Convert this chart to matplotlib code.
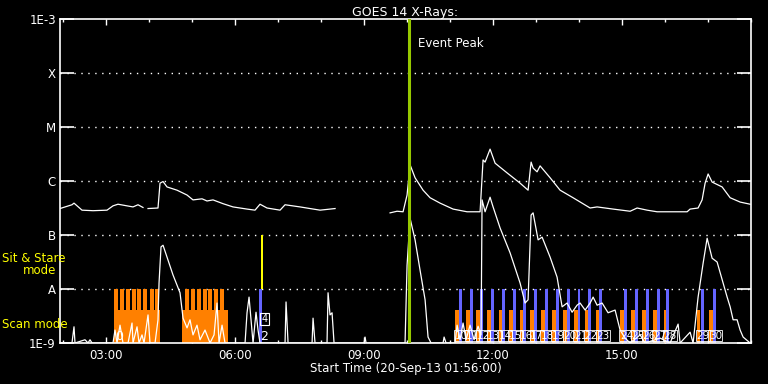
import numpy as np
import matplotlib
matplotlib.use('Agg')
import matplotlib.pyplot as plt
from matplotlib.ticker import FixedLocator, NullFormatter

# GOES 14 long channel (1-8 A), decimal hours of 20-Sep-13, log10 flux (nan = data gap)
long_time = [1.933, 2.212, 2.259, 2.445, 2.701, 3.026, 3.166, 3.282, 3.491, 3.631, 3.747, 3.863,
             3.92,
             3.980, 4.212, 4.259, 4.329, 4.422, 4.654, 4.887, 5.026, 5.236, 5.352, 5.491, 5.724,
             5.956, 6.282, 6.468, 6.584, 6.747, 7.050, 7.166, 7.515, 7.747, 7.980, 8.329,
             9.0,
             9.608, 9.770, 9.910, 10.003, 10.073, 10.189, 10.375, 10.538, 10.771, 11.073, 11.398,
             11.701, 11.770, 11.817, 11.933, 12.050, 12.329, 12.631, 12.817, 12.887, 12.933,
             13.026, 13.096, 13.329, 13.561, 13.863, 14.259, 14.422, 14.794, 15.189, 15.352,
             15.584, 15.817, 16.515, 16.584, 16.770, 16.863, 16.933, 17.003, 17.096, 17.329,
             17.515, 17.747, 17.980]
long_log = [-6.51, -6.44, -6.41, -6.54, -6.55, -6.54, -6.46, -6.43, -6.46, -6.48, -6.44, -6.49,
            np.nan,
            -6.51, -6.50, -6.04, -6.01, -6.11, -6.17, -6.26, -6.35, -6.33, -6.37, -6.35, -6.42,
            -6.48, -6.52, -6.54, -6.43, -6.50, -6.54, -6.44, -6.48, -6.51, -6.54, -6.51,
            np.nan,
            -6.59, -6.56, -6.57, -6.26, -5.70, -5.94, -6.17, -6.31, -6.41, -6.52, -6.57,
            -6.57, -5.61, -5.65, -5.41, -5.67, -5.85, -6.04, -6.17, -5.65, -5.76,
            -5.83, -5.72, -5.94, -6.17, -6.31, -6.50, -6.48, -6.52, -6.56, -6.50,
            -6.54, -6.57, -6.57, -6.52, -6.50, -6.35, -6.04, -5.87, -6.02, -6.11,
            -6.31, -6.39, -6.43]

# GOES 14 short channel (0.5-4 A)
short_time = [1.933, 2.212, 2.236, 2.259, 2.282, 2.515, 2.585, 2.631, 2.678, 3.166, 3.212, 3.259,
              3.329, 3.398, 3.515, 3.608, 3.631, 3.724, 3.771, 3.840, 3.887, 3.980, 4.026, 4.143,
              4.212, 4.236, 4.282, 4.329, 4.422, 4.561, 4.654, 4.724, 4.794, 4.887, 4.956, 5.026,
              5.119, 5.189, 5.305, 5.422, 5.515, 5.584, 5.631, 5.701, 5.770, 6.236, 6.282, 6.329,
              6.375, 6.422, 6.491, 6.538, 6.584, 7.166, 7.189, 7.236, 7.794, 7.817, 7.863, 8.142,
              8.166, 8.212, 8.259, 8.305, 9.003, 9.026, 9.050, 9.956, 10.003, 10.073, 10.189,
              10.305, 10.422, 10.491, 10.561, 10.840, 10.864, 10.910, 11.119, 11.166, 11.236,
              11.305, 11.375, 11.468, 11.561, 11.654, 11.724, 11.747, 11.817, 11.933, 12.003,
              12.166, 12.398, 12.631, 12.747, 12.817, 12.887, 12.933, 13.050, 13.143, 13.329,
              13.491, 13.608, 13.724, 13.840, 13.956, 14.026, 14.143, 14.259, 14.329, 14.422,
              14.538, 14.677, 14.840, 14.956, 15.073, 15.189, 15.422, 15.538, 15.887, 16.119,
              16.305, 16.352, 16.584, 16.654, 16.770, 16.887, 16.980, 17.096, 17.212, 17.329,
              17.445, 17.515, 17.584, 17.677, 17.747, 17.817, 17.980]
short_log = [-9.00, -9.00, -8.85, -8.70, -9.00, -8.94, -9.00, -8.94, -9.00, -9.00, -8.76, -9.00,
             -8.67, -9.00, -9.00, -8.63, -9.00, -8.70, -9.00, -8.85, -9.00, -8.48, -9.00, -9.00,
             -8.57, -7.89, -7.22, -7.19, -7.41, -7.74, -7.93, -8.07, -8.54, -8.72, -8.57, -8.85,
             -8.67, -8.94, -8.76, -9.00, -8.85, -8.26, -9.00, -8.67, -9.00, -9.00, -8.44, -8.15,
             -8.57, -9.00, -8.43, -8.76, -9.00, -9.00, -8.24, -9.00, -9.00, -8.54, -9.00, -9.00,
             -8.07, -8.48, -8.44, -9.00, -9.00, -8.89, -9.00, -9.00, -7.56, -6.69, -7.09,
             -7.65, -8.20, -8.89, -9.00, -9.00, -8.89, -9.00, -9.00, -8.67, -8.94,
             -8.63, -8.94, -8.67, -8.94, -8.69, -8.85, -6.35, -6.57, -6.30, -6.48,
             -6.87, -7.33, -7.89, -8.26, -8.20, -6.63, -6.59, -7.09, -7.04, -7.41,
             -7.78, -8.33, -8.26, -8.43, -8.30, -8.26, -8.39, -8.26, -8.15, -8.30,
             -8.26, -8.44, -8.39, -8.76, -8.91, -9.00, -8.85, -9.00, -8.91, -9.00,
             -8.65, -9.00, -8.80, -9.00, -8.15, -7.52, -7.06, -7.43, -7.50, -7.83,
             -8.15, -8.33, -8.57, -8.57, -8.76, -8.89, -9.00]

# IRIS observing modes
scan_blocks = ['03:11', '04:46']
scan_block_min = [64, 64]
scan_teeth = ['03:11', '03:20', '03:28', '03:36', '03:44', '03:52', '04:01', '04:09',
              '04:50', '04:59', '05:07', '05:15', '05:23', '05:31', '05:39']
scan_short = ['11:07', '11:22', '11:37', '11:52', '12:08', '12:22', '12:38', '12:52', '13:07',
              '13:22', '13:38', '13:53', '14:08', '14:24', '14:57', '15:13', '15:28', '15:43',
              '15:58', '16:44', '17:01']
stare_tall = ['06:34', '11:13', '11:28', '11:42', '11:57', '12:13', '12:28', '12:42', '12:57',
              '13:13', '13:28', '13:43', '13:58', '14:13', '14:28', '15:03', '15:18', '15:34',
              '15:49', '16:02', '16:50', '17:07']
sit_stare = ['06:36']
obs_labels = ['10', '11', '12', '13', '14', '15', '16', '17', '18', '19', '20', '21', '22',
              '23', '24', '25', '26', '27', '28', '29', '30']
event_peak = '10:03'

levels = [1e-9, 1e-8, 1e-7, 1e-6, 1e-5, 1e-4, 1e-3]
level_names = ['1E-9', 'A', 'B', 'C', 'M', 'X', '1E-3']


def hm(s):
    h, m = s.split(':')
    return int(h) + int(m) / 60.0


t0 = 1 + 56 / 60.0
t1 = 18.0

fig = plt.figure(figsize=(7.68, 3.84), dpi=100, facecolor='black')
ax = fig.add_axes([60 / 768, 41 / 384, 691 / 768, 324 / 384])
ax.set_facecolor('black')
ax.set_yscale('log')
ax.set_xlim(t0, t1)
ax.set_ylim(1e-9, 1e-3)

orange = '#ff8000'
blue = '#6464ff'
short_top = 10 ** -8.39

# scan mode blocks
ax.bar([hm(s) for s in scan_blocks], short_top - 1e-9, width=np.array(scan_block_min) / 60.0,
       bottom=1e-9, align='edge', color=orange, zorder=2)
ax.bar([hm(s) for s in scan_teeth], 1e-8 - 1e-9, width=5.5 / 60.0, bottom=1e-9,
       align='edge', color=orange, zorder=2)
ax.bar([hm(s) for s in scan_short], short_top - 1e-9, width=5.5 / 60.0, bottom=1e-9,
       align='edge', color=orange, zorder=2)
ax.bar([hm(s) for s in stare_tall], 1e-8 - 1e-9, width=4 / 60.0, bottom=1e-9,
       align='edge', color=blue, zorder=2)
ax.bar([hm(s) for s in sit_stare], 1e-7 - 1e-8, width=3.5 / 60.0, bottom=1e-8,
       align='edge', color='#ffff00', zorder=2)

# grid at flare levels
for lv in levels[1:-1]:
    ax.axhline(lv, color='white', lw=1.0, ls=(0, (1, 4)), zorder=1)

ax.plot(long_time, 10 ** np.array(long_log), color='white', lw=0.9, zorder=4)
ax.plot(short_time, 10 ** np.array(short_log), color='white', lw=0.9, zorder=4)

ax.axvline(hm(event_peak), color='#96c800', lw=2.2, zorder=5)
ax.text(hm(event_peak) + 0.2, 10 ** -3.45, 'Event Peak', color='white', fontsize=8.5,
        va='center', ha='left', zorder=6)

# observation numbers
ax.text(hm('03:11') + 0.03, 1.15e-9, '0', color='white', fontsize=9, zorder=6)
ax.text(hm('06:34') + 0.03, 1.15e-9, '2', color='white', fontsize=9, zorder=6)
ax.text(hm('06:37'), 10 ** -8.55, '4', color='white', fontsize=7, va='center', zorder=6,
        bbox=dict(boxstyle='square,pad=0.1', fc='none', ec='white', lw=0.8))
for s, lab in zip(scan_short, obs_labels):
    ax.text(hm(s), 1.2e-9, lab, color='white', fontsize=7.5, zorder=6,
            bbox=dict(boxstyle='square,pad=0.05', fc='none', ec='white', lw=0.6))

ax.set_yticks(levels)
ax.set_yticklabels(level_names)
ax.yaxis.set_minor_locator(FixedLocator([]))
ax.yaxis.set_minor_formatter(NullFormatter())
ax.tick_params(axis='y', which='major', direction='in', length=10, width=1.2,
               color='white', labelcolor='white', labelsize=8.5, right=True, pad=3)

ax.set_xticks([3, 6, 9, 12, 15])
ax.set_xticklabels(['03:00', '06:00', '09:00', '12:00', '15:00'])
ax.xaxis.set_minor_locator(FixedLocator(list(range(2, 19))))
ax.tick_params(axis='x', which='major', direction='in', length=4.5, width=1,
               color='white', labelcolor='white', labelsize=8.5, top=True, pad=4)
ax.tick_params(axis='x', which='minor', direction='in', length=2.3, width=1,
               color='white', top=True)
for sp in ax.spines.values():
    sp.set_color('white')
    sp.set_linewidth(1.2)

ax.set_title('GOES 14 X-Rays:', color='white', fontsize=9, pad=1)
ax.set_xlabel('Start Time (20-Sep-13 01:56:00)', color='white', fontsize=8.5, labelpad=0)

fig.text(2 / 768, 1 - 258 / 384, 'Sit & Stare', color='#ffff00', fontsize=8.5, va='center')
fig.text(40 / 768, 1 - 271 / 384, 'mode', color='#ffff00', fontsize=8.5, va='center', ha='center')
fig.text(2 / 768, 1 - 324 / 384, 'Scan mode', color='#ffff00', fontsize=8.5, va='center')

fig.savefig('out.png', dpi=100, facecolor='black')
